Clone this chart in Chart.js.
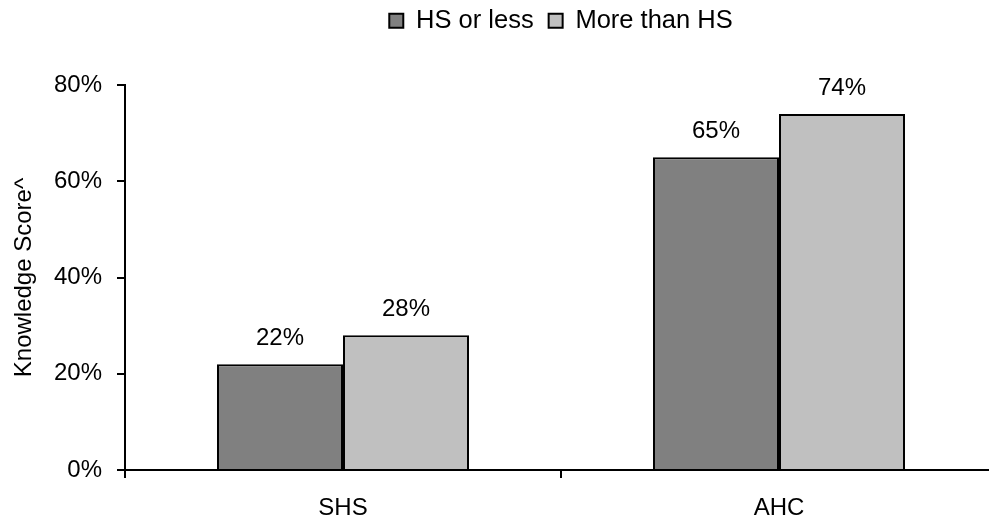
<!DOCTYPE html>
<html>
<head>
<meta charset="utf-8">
<script src="https://cdn.jsdelivr.net/npm/chart.js@4/dist/chart.umd.min.js"></script>
<style>
    html, body { margin: 0; padding: 0; background: #fff; overflow: hidden; }
    #wrap { width: 1120px; height: 525px; }
</style>
</head>
<body>
<div id="wrap"><canvas id="chart"></canvas></div>
<script>
const categories = ['SHS', 'AHC'];
const hsOrLess = [0.22, 0.65];
const moreThanHs = [0.28, 0.74];
const seriesNames = ['HS or less', 'More than HS'];
const yTicks = [0, 0.2, 0.4, 0.6, 0.8];

const FONT = 'Liberation Sans, Arial, sans-serif';
const SIZE = 24;

// labels above each bar
const barLabels = {
    id: 'barLabels',
    afterDatasetsDraw(chart) {
        const ctx = chart.ctx;
        ctx.save();
        ctx.font = SIZE + 'px ' + FONT;
        ctx.fillStyle = '#000';
        ctx.textAlign = 'center';
        ctx.textBaseline = 'middle';
        chart.data.datasets.forEach((ds, i) => {
            chart.getDatasetMeta(i).data.forEach((bar, j) => {
                ctx.fillText(Math.round(ds.data[j] * 100) + '%', bar.x, bar.y - 26);
            });
        });
        ctx.restore();
    }
};

// leave room between legend and plot, and center legend over the plot area
const legendGap = {
    id: 'legendGap',
    beforeInit(chart) {
        const fit = chart.legend.fit;
        chart.legend.fit = function () {
            fit.call(this);
            this.height = 85;
        };
    },
    afterLayout(chart) {
        const legend = chart.legend;
        legend.left = chart.chartArea.left;
        legend.right = chart.chartArea.right;
        legend.top = -7;
    }
};

new Chart(document.getElementById('chart').getContext('2d'), {
    type: 'bar',
    data: {
        labels: categories,
        datasets: [{
            label: seriesNames[0],
            data: hsOrLess,
            backgroundColor: '#808080',
            borderColor: '#000',
            borderWidth: 2
        }, {
            label: seriesNames[1],
            data: moreThanHs,
            backgroundColor: '#c0c0c0',
            borderColor: '#000',
            borderWidth: 2
        }]
    },
    options: {
        responsive: true,
        maintainAspectRatio: false,
        animation: false,
        layout: { padding: { left: 0, right: 123, top: 0, bottom: 0 } },
        datasets: {
            bar: { barPercentage: 1, categoryPercentage: 0.578 }
        },
        plugins: {
            tooltip: { enabled: false },
            legend: {
                position: 'top',
                labels: {
                    color: '#000',
                    font: { family: FONT, size: 25.5 },
                    boxWidth: 14,
                    boxHeight: 14,
                    padding: 15,
                    generateLabels(chart) {
                        return chart.data.datasets.map((ds, i) => ({
                            text: ds.label,
                            fillStyle: ds.backgroundColor,
                            strokeStyle: '#000',
                            lineWidth: 2,
                            datasetIndex: i
                        }));
                    }
                },
                onClick: null
            }
        },
        scales: {
            x: {
                afterFit(scale) { scale.height = 55; },
                grid: { offset: true, drawOnChartArea: false, drawTicks: true, tickLength: 8, color: '#000', lineWidth: 2 },
                border: { display: true, color: '#000', width: 2 },
                ticks: { color: '#000', font: { family: FONT, size: SIZE }, padding: 16 }
            },
            y: {
                min: 0,
                max: 0.8,
                afterFit(scale) { scale.width = 125; },
                afterBuildTicks(scale) { scale.ticks = yTicks.map(v => ({ value: v })); },
                grid: { drawOnChartArea: false, drawTicks: true, tickLength: 8, color: '#000', lineWidth: 2 },
                border: { display: true, color: '#000', width: 2 },
                ticks: {
                    color: '#000',
                    font: { family: FONT, size: SIZE },
                    padding: 15,
                    callback: v => Math.round(v * 100) + '%'
                },
                title: {
                    display: true,
                    text: 'Knowledge Score^',
                    color: '#000',
                    font: { family: FONT, size: SIZE },
                    padding: { top: 10, bottom: 0 }
                }
            }
        }
    },
    plugins: [barLabels, legendGap]
});
</script>
</body>
</html>
